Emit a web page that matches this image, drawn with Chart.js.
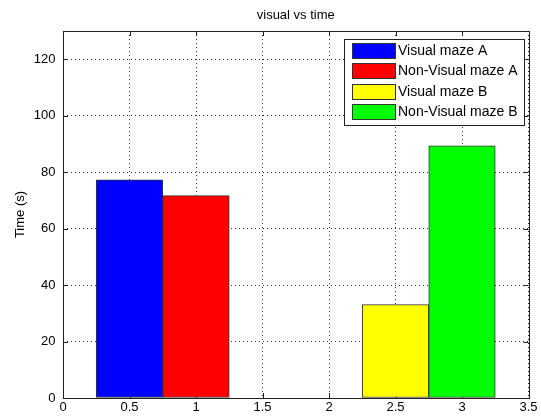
<!DOCTYPE html>
<html>
<head>
<meta charset="utf-8">
<script src="https://cdn.jsdelivr.net/npm/chart.js@4/dist/chart.umd.min.js"></script>
<style>
body { margin: 0; background: #fff; }
</style>
</head>
<body>
<canvas id="chart" width="541" height="417"></canvas>
<script>
var seriesNames = ['Visual maze A', 'Non-Visual maze A', 'Visual maze B', 'Non-Visual maze B'];
var xValues = [0.5, 1, 2.5, 3];
var times = [77.3, 71.7, 33.1, 89.3];
var yTickMax = 120;

var barColors = ['#0000ff', '#ff0000', '#ffff00', '#00ff00'];
var FONT = '"Liberation Sans", Arial, sans-serif';

// box, inward ticks and the legend drawn the matlab way
var matlabAxes = {
    id: 'matlabAxes',
    beforeDatasetsDraw: function(chart) {
        var ctx = chart.ctx, a = chart.chartArea;
        var xs = chart.scales.x, ys = chart.scales.y;
        ctx.save();
        ctx.strokeStyle = '#222';
        ctx.lineWidth = 1;
        ctx.beginPath();
        xs.ticks.forEach(function(t) {
            var px = Math.round(xs.getPixelForValue(t.value)) + 0.5;
            ctx.moveTo(px, a.bottom); ctx.lineTo(px, a.bottom - 5);
            ctx.moveTo(px, a.top); ctx.lineTo(px, a.top + 5);
        });
        ys.ticks.forEach(function(t) {
            var py = Math.round(ys.getPixelForValue(t.value)) + 0.5;
            ctx.moveTo(a.left, py); ctx.lineTo(a.left + 5, py);
            ctx.moveTo(a.right, py); ctx.lineTo(a.right - 5, py);
        });
        ctx.stroke();
        ctx.restore();
    },
    afterDraw: function(chart) {
        var ctx = chart.ctx, a = chart.chartArea;
        ctx.save();
        ctx.strokeStyle = '#222';
        ctx.lineWidth = 1;
        var l = Math.round(a.left) + 0.5, t = Math.round(a.top) + 0.5;
        ctx.strokeRect(l, t, Math.round(a.right) - Math.round(a.left), Math.round(a.bottom) - Math.round(a.top));

        // legend box
        var sets = chart.data.datasets;
        ctx.font = '14px ' + FONT;
        var tw = 0;
        sets.forEach(function(d) { tw = Math.max(tw, ctx.measureText(d.label).width); });
        var sw = 43, sh = 15, rowH = 20.4, padX = 8, gap = 3;
        var boxW = Math.round(padX + sw + gap + tw + 6);
        var boxH = Math.round(4 + rowH * (sets.length - 1) + sh + 6);
        var right = Math.round(a.right - 5), top = Math.round(a.top + 8);
        var left = right - boxW;
        ctx.fillStyle = '#fff';
        ctx.fillRect(left, top, boxW, boxH);
        ctx.strokeRect(left + 0.5, top + 0.5, boxW, boxH);
        sets.forEach(function(d, i) {
            var y = Math.round(top + 4 + i * rowH);
            ctx.fillStyle = d.backgroundColor;
            ctx.fillRect(left + padX, y, sw, sh);
            ctx.strokeStyle = '#333';
            ctx.strokeRect(left + padX + 0.5, y + 0.5, sw, sh);
            ctx.fillStyle = '#000';
            ctx.textBaseline = 'middle';
            ctx.textAlign = 'left';
            ctx.fillText(d.label, left + padX + sw + gap, y + sh / 2 + 1);
        });
        ctx.restore();
    }
};

var ctx = document.getElementById('chart').getContext('2d');
var myChart = new Chart(ctx, {
    type: 'bar',
    data: {
        datasets: seriesNames.map(function(name, i) {
            return {
                label: name,
                data: [{ x: xValues[i], y: times[i] }],
                backgroundColor: barColors[i],
                borderColor: '#333',
                borderWidth: 1,
                borderSkipped: false,
                grouped: false,
                barPercentage: 1,
                categoryPercentage: 1
            };
        })
    },
    options: {
        responsive: false,
        animation: false,
        layout: { padding: { left: 0, right: 12.5, top: 0, bottom: 0 } },
        plugins: {
            legend: { display: false },
            tooltip: { enabled: false },
            title: {
                display: true,
                text: 'visual vs time',
                fullSize: false,
                color: '#000',
                font: { family: FONT, size: 13, weight: 'normal' },
                padding: { top: 7.2, bottom: 8.2 }
            }
        },
        scales: {
            x: {
                type: 'linear',
                min: 0,
                max: 3.5,
                bounds: 'data',
                offset: false,
                grid: { color: '#333', offset: false, drawTicks: false },
                border: { display: false, dash: [1, 3] },
                ticks: {
                    stepSize: 0.5,
                    padding: 2,
                    color: '#000',
                    maxRotation: 0,
                    autoSkip: false,
                    font: { family: FONT, size: 13 },
                    callback: function(v) { return String(v); }
                },
                afterFit: function(s) { s.height = 19; }
            },
            y: {
                min: 0,
                max: 130,
                bounds: 'data',
                grid: { color: '#333', drawTicks: false },
                border: { display: false, dash: [1, 3] },
                ticks: {
                    stepSize: 20,
                    padding: 7.5,
                    color: '#000',
                    font: { family: FONT, size: 13 }
                },
                afterBuildTicks: function(s) {
                    s.ticks = s.ticks.filter(function(t) { return t.value <= yTickMax; });
                },
                title: {
                    display: true,
                    text: 'Time (s)',
                    color: '#000',
                    font: { family: FONT, size: 13 },
                    padding: { top: 12.2, bottom: 0 }
                },
                afterFit: function(s) { s.width = 63; }
            }
        }
    },
    plugins: [matlabAxes]
});
</script>
</body>
</html>
